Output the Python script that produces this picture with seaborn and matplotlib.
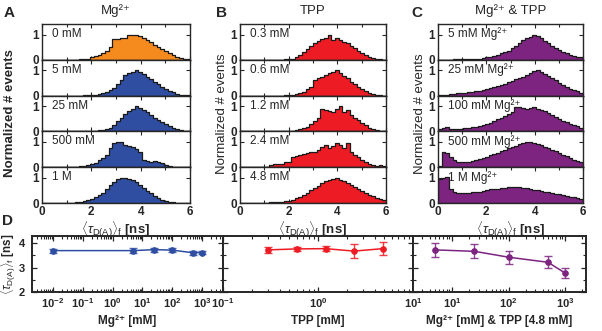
import numpy as np
import pandas as pd
import matplotlib
matplotlib.use("Agg")
import matplotlib.pyplot as plt
from matplotlib.ticker import FixedLocator, MultipleLocator, FuncFormatter, LogLocator, NullFormatter
import seaborn as sns

# histogram bins: 40 bins of 0.15 ns from 0 to 6 ns
bin_centers = np.arange(40) * 0.15 + 0.075

# Panel A: Mg2+ titration
mg_labels = ["0 mM", "5 mM", "25 mM", "500 mM", "1 M"]
mg_hist = [
    [0, 0, 0, 0, 0, 0, 0, 0, 0.005, 0.01,
     0.02, 0.03, 0.05, 0.1, 0.16, 0.2, 0.28, 0.35, 0.52, 0.82,
     0.84, 0.86, 0.88, 0.97, 1.0, 0.99, 0.93, 0.86, 0.78, 0.7,
     0.6, 0.52, 0.44, 0.36, 0.28, 0.2, 0.13, 0.08, 0.04, 0.02],
    [0, 0, 0, 0, 0, 0, 0, 0, 0, 0,
     0, 0.005, 0.01, 0.02, 0.04, 0.06, 0.1, 0.15, 0.22, 0.32,
     0.45, 0.62, 0.8, 0.88, 0.93, 1.0, 0.95, 0.85, 0.75, 0.65,
     0.55, 0.45, 0.36, 0.27, 0.2, 0.13, 0.08, 0.04, 0.02, 0.01],
    [0, 0, 0, 0, 0, 0, 0, 0, 0, 0,
     0, 0, 0.005, 0.01, 0.02, 0.04, 0.07, 0.1, 0.15, 0.25,
     0.4, 0.55, 0.68, 0.8, 0.88, 1.0, 0.92, 0.85, 0.75, 0.65,
     0.55, 0.45, 0.36, 0.28, 0.2, 0.14, 0.09, 0.05, 0.03, 0.01],
    [0, 0, 0, 0, 0, 0, 0, 0, 0, 0.01,
     0.03, 0.05, 0.08, 0.12, 0.18, 0.28, 0.38, 0.5, 0.75, 0.95,
     1.0, 0.98, 0.9, 0.85, 0.8, 0.72, 0.6, 0.28, 0.25, 0.22,
     0.25, 0.22, 0.15, 0.08, 0.04, 0.02, 0.01, 0, 0, 0],
    [0, 0, 0, 0, 0, 0, 0, 0.005, 0.01, 0.02,
     0.04, 0.06, 0.1, 0.15, 0.22, 0.3, 0.4, 0.55, 0.7, 0.85,
     0.95, 1.0, 0.99, 0.96, 0.9, 0.82, 0.72, 0.6, 0.48, 0.38,
     0.28, 0.2, 0.13, 0.08, 0.04, 0.02, 0.01, 0, 0, 0],
]
mg_colors = ["#F58A1F", "#2F4EA2", "#2F4EA2", "#2F4EA2", "#2F4EA2"]

# Panel B: TPP titration
tpp_labels = ["0.3 mM", "0.6 mM", "1.2 mM", "2.4 mM", "4.8 mM"]
tpp_hist = [
    [0, 0, 0, 0, 0, 0, 0, 0, 0, 0,
     0.005, 0.01, 0.02, 0.03, 0.05, 0.12, 0.2, 0.32, 0.42, 0.55,
     0.65, 0.75, 0.82, 0.85, 1.0, 0.78, 0.85, 0.8, 0.72, 0.65,
     0.55, 0.45, 0.36, 0.27, 0.2, 0.13, 0.07, 0.04, 0.02, 0.01],
    [0, 0, 0, 0, 0, 0, 0, 0, 0, 0,
     0, 0, 0.01, 0.02, 0.03, 0.06, 0.1, 0.15, 0.25, 0.35,
     0.6, 0.68, 0.75, 0.82, 0.88, 0.95, 1.0, 0.9, 0.78, 0.68,
     0.55, 0.45, 0.35, 0.26, 0.18, 0.1, 0.06, 0.03, 0.01, 0],
    [0, 0, 0, 0, 0, 0, 0, 0, 0, 0,
     0, 0, 0.01, 0.02, 0.03, 0.05, 0.08, 0.12, 0.18, 0.28,
     0.4, 0.55, 0.88, 0.85, 0.8, 0.75, 0.9, 1.0, 0.78, 0.85,
     0.65, 0.55, 0.45, 0.35, 0.25, 0.15, 0.08, 0.04, 0.02, 0.01],
    [0, 0, 0, 0, 0, 0, 0, 0, 0.1, 0.12,
     0.12, 0.13, 0.2, 0.22, 0.4, 0.45, 0.5, 0.52, 0.55, 0.6,
     0.62, 0.7, 0.8, 0.9, 0.75, 0.85, 0.95, 0.88, 0.75, 0.95,
     0.6, 0.5, 0.42, 0.3, 0.2, 0.12, 0.1, 0.05, 0.1, 0.06],
    [0, 0, 0, 0, 0, 0, 0, 0.01, 0.02, 0.02,
     0.03, 0.04, 0.06, 0.08, 0.12, 0.18, 0.25, 0.32, 0.4, 0.5,
     0.58, 0.68, 0.8, 0.88, 0.92, 0.95, 1.0, 0.93, 0.88, 0.8,
     0.7, 0.62, 0.55, 0.48, 0.4, 0.33, 0.26, 0.2, 0.15, 0.1],
]

# Panel C: Mg2+ titration with 4.8 mM TPP
mix_labels = ["5 mM Mg²⁺", "25 mM Mg²⁺", "100 mM Mg²⁺", "500 mM Mg²⁺", "1 M Mg²⁺"]
mix_hist = [
    [0.01, 0.01, 0.01, 0.01, 0.02, 0.02, 0.02, 0.03, 0.03, 0.04,
     0.04, 0.05, 0.06, 0.1, 0.13, 0.17, 0.2, 0.25, 0.3, 0.35,
     0.45, 0.55, 0.68, 0.78, 0.85, 0.92, 1.0, 0.95, 0.85, 0.75,
     0.65, 0.55, 0.45, 0.38, 0.3, 0.25, 0.2, 0.15, 0.12, 0.1],
    [0.02, 0.03, 0.04, 0.06, 0.07, 0.09, 0.1, 0.12, 0.14, 0.15,
     0.17, 0.2, 0.22, 0.26, 0.3, 0.34, 0.38, 0.42, 0.46, 0.52,
     0.58, 0.64, 0.68, 0.74, 0.82, 0.9, 0.98, 1.0, 0.92, 0.85,
     0.78, 0.7, 0.6, 0.5, 0.42, 0.35, 0.28, 0.22, 0.17, 0.12],
    [0.1, 0.12, 0.18, 0.08, 0.08, 0.09, 0.1, 0.12, 0.14, 0.16,
     0.18, 0.21, 0.25, 0.3, 0.35, 0.42, 0.48, 0.55, 0.6, 0.7,
     0.78, 0.98, 0.95, 0.92, 0.9, 0.92, 0.95, 0.9, 0.85, 0.8,
     0.72, 0.65, 0.58, 0.5, 0.42, 0.36, 0.3, 0.24, 0.2, 0.15],
    [0.05, 0.62, 0.55, 0.4, 0.28, 0.22, 0.2, 0.2, 0.22, 0.26,
     0.3, 0.34, 0.38, 0.42, 0.48, 0.53, 0.58, 0.63, 0.68, 0.75,
     0.8, 0.86, 0.92, 0.97, 1.0, 0.98, 0.95, 0.92, 0.88, 0.82,
     0.76, 0.7, 0.64, 0.57, 0.5, 0.44, 0.37, 0.3, 0.25, 0.2],
    [0.95, 1.0, 1.02, 0.55, 0.45, 0.4, 0.38, 0.38, 0.4, 0.42,
     0.43, 0.45, 0.47, 0.5, 0.55, 0.56, 0.57, 0.58, 0.6, 0.62,
     0.62, 0.63, 0.62, 0.6, 0.58, 0.55, 0.52, 0.5, 0.48, 0.45,
     0.42, 0.4, 0.37, 0.34, 0.31, 0.28, 0.25, 0.22, 0.19, 0.16],
]

# Panel D: mean lifetimes
mg_conc = [0.01, 5, 25, 100, 500, 1000]
mg_tau = [3.70, 3.70, 3.74, 3.72, 3.61, 3.62]
mg_err = [0.08, 0.09, 0.08, 0.09, 0.07, 0.07]
tpp_conc = [0.3, 0.6, 1.2, 2.4, 4.8]
tpp_tau = [3.73, 3.77, 3.78, 3.68, 3.78]
tpp_err = [0.12, 0.09, 0.09, 0.30, 0.28]
mix_conc = [5, 25, 100, 500, 1000]
mix_tau = [3.73, 3.67, 3.43, 3.22, 2.78]
mix_err = [0.28, 0.29, 0.27, 0.24, 0.22]

BLUE = "#2F4EA2"
RED = "#ED1C24"
PURPLE = "#7D2481"

sns.set_style("ticks")
plt.rcParams["font.family"] = ["Liberation Sans", "DejaVu Sans"]
plt.rcParams["mathtext.fontset"] = "custom"
plt.rcParams["mathtext.rm"] = "Liberation Sans"
plt.rcParams["mathtext.it"] = "Liberation Sans:italic"
plt.rcParams["mathtext.bf"] = "Liberation Sans:bold"
plt.rcParams["axes.linewidth"] = 1.0

W, H = 602, 331
fig = plt.figure(figsize=(W / 100, H / 100), dpi=100)

tau_label = r"$\langle\tau_{\mathrm{D(A)}}\rangle_{\mathrm{f}}\ \mathbf{[ns]}$"


def px_axes(x0, x1, y0, y1):
    return fig.add_axes([x0 / W, 1 - y1 / H, (x1 - x0) / W, (y1 - y0) / H])


def hist_column(x0, x1, hists, labels, colors, title, letter, letter_x, ylab_x, ylabel_bold):
    top, bottom = 24, 203
    row_h = (bottom - top) / 5
    for i in range(5):
        ax = px_axes(x0, x1, top + i * row_h, top + (i + 1) * row_h)
        df = pd.DataFrame({"tau": bin_centers, "w": np.asarray(hists[i], dtype=float)})
        sns.histplot(data=df, x="tau", weights="w", binwidth=0.15, binrange=(0, 6),
                     element="step", fill=True, color=colors[i], alpha=1,
                     edgecolor="#1a1a1a", linewidth=0.9, ax=ax)
        ax.set_xlim(0, 6)
        ax.set_ylim(0, 1.42)
        ax.set_ylabel("")
        ax.set_xlabel("")
        ax.xaxis.set_major_locator(FixedLocator([0, 2, 4, 6]))
        ax.xaxis.set_minor_locator(FixedLocator([1, 3, 5]))
        ax.yaxis.set_major_locator(FixedLocator([0, 1]))
        ax.tick_params(which="both", direction="in", top=True, right=True,
                       labelsize=8.5, pad=2)
        ax.tick_params(which="major", length=3, width=0.8)
        ax.tick_params(which="minor", length=2, width=0.8)
        for t in ax.get_yticklabels():
            t.set_fontweight("bold")
        if i < 4:
            ax.set_xticklabels([])
        else:
            for t in ax.get_xticklabels():
                t.set_fontweight("bold")
            ax.set_xlabel(tau_label, fontsize=9.5, labelpad=1)
        ax.text(0.07, 0.72, labels[i], transform=ax.transAxes, fontsize=8.5,
                va="center", ha="left")
        if i == 0:
            ax.set_title(title, fontsize=9.5, pad=7)
    fig.text(letter_x / W, 1 - 13 / H, letter, fontsize=11, fontweight="bold",
             ha="left", va="center")
    fig.text(ylab_x / W, 1 - ((top + bottom) / 2) / H, "Normalized # events",
             rotation=90, fontsize=9.5, ha="center", va="center",
             fontweight="bold" if ylabel_bold else "normal")


hist_column(42, 190, mg_hist, mg_labels, mg_colors, "Mg²⁺", "A", 4, 10, True)
hist_column(240, 386, tpp_hist, tpp_labels, [RED] * 5, "TPP", "B", 216, 222, False)
hist_column(438, 583, mix_hist, mix_labels, [PURPLE] * 5, "Mg²⁺ & TPP", "C", 411, 420, False)

fig.text(2 / W, 1 - 221 / H, "D", fontsize=11, fontweight="bold", ha="left", va="center")


def log_fmt(v, pos):
    return r"$\mathbf{10^{%d}}$" % int(round(np.log10(v)))


d_top, d_bot = 236, 292
d_specs = [
    (32, 223, mg_conc, mg_tau, mg_err, BLUE, (10 ** -2.7, 10 ** 3.7), "Mg²⁺ [mM]"),
    (223, 413, tpp_conc, tpp_tau, tpp_err, RED, (0.1, 10), "TPP [mM]"),
    (413, 586, mix_conc, mix_tau, mix_err, PURPLE, (2.04, 2350), "Mg²⁺ [mM] & TPP [4.8 mM]"),
]
for k, (x0, x1, xs, ys, es, col, xl, xlab) in enumerate(d_specs):
    ax = px_axes(x0, x1, d_top, d_bot)
    ax.set_xscale("log")
    ax.errorbar(xs, ys, yerr=es, fmt="none", ecolor=col, elinewidth=1.0,
                capsize=3, capthick=1.0, alpha=0.85)
    sns.lineplot(x=xs, y=ys, color=col, marker="o", markersize=4,
                 markeredgecolor=col, linewidth=1.1, ax=ax)
    ax.set_xlim(*xl)
    ax.set_ylim(2, 4.3)
    ax.xaxis.set_major_locator(LogLocator(base=10, numticks=12))
    ax.xaxis.set_minor_locator(LogLocator(base=10, subs=np.arange(2, 10), numticks=12))
    ax.xaxis.set_major_formatter(FuncFormatter(log_fmt))
    ax.xaxis.set_minor_formatter(NullFormatter())
    ax.yaxis.set_major_locator(FixedLocator([2, 3, 4]))
    ax.yaxis.set_minor_locator(MultipleLocator(0.5))
    ax.tick_params(which="both", direction="in", top=True, right=True,
                   labelsize=8, pad=3)
    ax.tick_params(axis="y", pad=5)
    ax.tick_params(which="major", length=3.5, width=0.9)
    ax.tick_params(which="minor", length=2, width=0.8)
    for sp in ax.spines.values():
        sp.set_linewidth(1.4)
    for t in ax.get_xticklabels() + ax.get_yticklabels():
        t.set_fontweight("bold")
    if k == 0:
        ax.set_ylabel(tau_label, fontsize=8.5)
        ax.yaxis.set_label_coords(-(x0 - 18) / (x1 - x0), 0.5)
    else:
        ax.set_yticklabels([])
        ax.set_ylabel("")
    ax.set_xlabel(xlab, fontsize=8.5, fontweight="bold")
    ax.xaxis.set_label_coords(0.5, -(315 - d_bot) / (d_bot - d_top))

fig.savefig("out.png", dpi=100)
